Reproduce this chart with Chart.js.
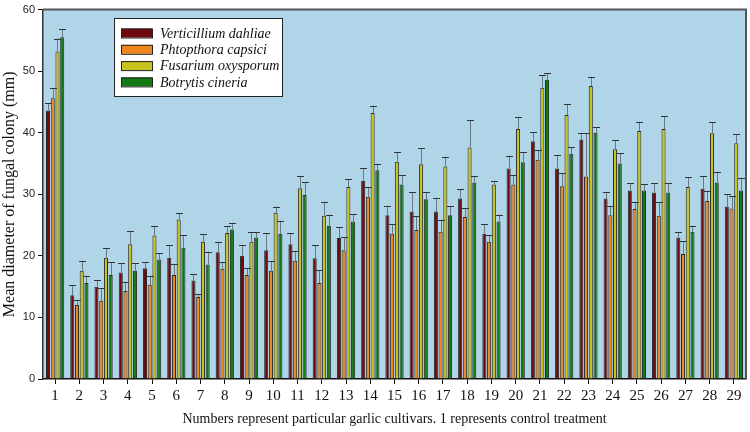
<!DOCTYPE html>
<html>
<head>
<meta charset="utf-8">
<script src="https://cdn.jsdelivr.net/npm/chart.js@4/dist/chart.umd.min.js"></script>
<style>
  html, body { margin: 0; padding: 0; background: #fff; }
  #wrap { width: 750px; height: 432px; position: relative; }
</style>
</head>
<body>
<div id="wrap"><canvas id="myBarChart"></canvas></div>
<script>
// cultivar numbers (1 = control)
const cultivars = ['1','2','3','4','5','6','7','8','9','10','11','12','13','14','15','16','17','18','19','20','21','22','23','24','25','26','27','28','29'];
const seriesNames = ['Verticillium dahliae', 'Phtopthora capsici', 'Fusarium oxysporum', 'Botrytis cineria'];

// mean colony diameter (mm)
const verticillium = [43.6,13.6,15.0,17.3,18.0,19.7,16.0,20.6,20.0,20.9,21.9,19.6,22.9,32.2,26.6,27.2,27.2,29.3,23.6,34.2,38.6,34.2,38.9,29.3,30.6,30.3,23.0,30.9,28.0];
const phytophthora = [45.6,12.0,12.7,14.3,15.3,16.9,13.3,17.9,16.9,17.6,19.2,15.6,20.9,29.6,23.6,24.2,23.9,26.3,22.3,31.6,35.6,31.3,32.9,26.6,27.6,26.5,20.3,28.9,27.7];
const fusarium = [53.2,17.6,19.7,21.9,23.3,25.9,22.3,23.7,22.3,27.0,31.0,26.5,31.2,43.2,35.3,34.9,34.5,37.6,31.6,40.6,47.3,42.9,47.6,37.3,40.3,40.6,31.2,39.9,38.3];
const botrytis = [55.5,15.6,16.9,17.6,19.4,21.3,18.6,24.3,23.0,23.6,29.9,24.9,25.6,33.9,31.6,29.2,26.6,31.9,25.6,35.2,48.6,36.6,40.0,35.0,30.6,30.3,23.9,31.9,30.6];

// upper error (mm)
const verticilliumErr = [1.2,1.6,1.0,1.5,1.0,2.0,1.0,1.6,1.7,2.8,1.8,2.1,1.8,2.1,1.5,3.1,2.2,1.5,1.5,2.1,1.5,2.2,1.0,1.1,1.2,1.5,0.9,2.0,2.0];
const phytophthoraErr = [1.6,0.9,2.0,1.5,1.5,1.8,0.5,1.1,1.1,1.6,1.6,2.1,2.1,1.6,1.6,2.2,2.0,1.5,1.1,1.5,1.6,2.1,7.0,1.5,1.2,2.2,2.1,1.7,2.0];
const fusariumErr = [2.1,1.6,1.5,2.1,1.5,1.1,1.2,1.1,1.5,1.0,1.9,2.3,1.3,1.2,1.5,2.6,1.6,4.5,0.6,2.0,2.0,1.7,1.5,1.5,1.5,2.1,1.6,1.8,1.5];
const botrytisErr = [1.3,1.2,2.1,1.2,1.0,2.1,2.1,1.1,0.9,2.1,2.1,1.8,1.2,1.1,1.5,1.2,1.5,1.0,1.1,1.6,1.1,1.1,0.9,1.7,1.1,1.5,1.0,1.8,2.1];

const yTicks = [0, 10, 20, 30, 40, 50, 60];

const colors = ['#6E0A0E', '#F0861E', '#C6C41C', '#117A12'];
const serif = '"Liberation Serif", "Times New Roman", serif';
const sans = '"Liberation Sans", Arial, sans-serif';

// plot background + frame
const backgroundPlugin = {
  id: 'plotBg',
  beforeDraw(chart) {
    const { ctx, chartArea: a } = chart;
    ctx.save();
    ctx.fillStyle = '#B0D5E9';
    ctx.fillRect(a.left, a.top, a.right - a.left, a.bottom - a.top);
    ctx.restore();
  },
  afterDraw(chart) {
    const { ctx, chartArea: a } = chart;
    ctx.save();
    ctx.strokeStyle = '#555';
    ctx.lineWidth = 2;
    ctx.beginPath();
    ctx.moveTo(a.left, a.top);
    ctx.lineTo(a.right, a.top);
    ctx.lineTo(a.right, a.bottom);
    ctx.stroke();
    ctx.restore();
  }
};

// upward error bars with caps
const errorBarPlugin = {
  id: 'errorBars',
  afterDatasetsDraw(chart) {
    const { ctx } = chart;
    const yScale = chart.scales.y;
    ctx.save();
    chart.data.datasets.forEach((ds, i) => {
      const meta = chart.getDatasetMeta(i);
      meta.data.forEach((bar, j) => {
        const top = yScale.getPixelForValue(ds.data[j] + ds.errors[j]);
        const x = Math.round(bar.x) + 0.5;
        ctx.strokeStyle = '#667788';
        ctx.lineWidth = 1;
        ctx.beginPath();
        ctx.moveTo(x, bar.y);
        ctx.lineTo(x, top);
        ctx.stroke();
        ctx.strokeStyle = '#333';
        ctx.beginPath();
        ctx.moveTo(x - 3.5, Math.round(top) + 0.5);
        ctx.lineTo(x + 3.5, Math.round(top) + 0.5);
        ctx.stroke();
      });
    });
    ctx.restore();
  }
};

// legend box inside the plot
const legendPlugin = {
  id: 'boxLegend',
  afterDraw(chart) {
    const { ctx } = chart;
    const x0 = 114, y0 = 18, w = 168, h = 78;
    ctx.save();
    ctx.fillStyle = '#fff';
    ctx.fillRect(x0, y0, w, h);
    ctx.strokeStyle = '#222';
    ctx.lineWidth = 1;
    ctx.strokeRect(x0 + 0.5, y0 + 0.5, w, h);
    ctx.font = 'italic 14px ' + serif;
    ctx.textBaseline = 'middle';
    chart.data.datasets.forEach((ds, i) => {
      const cy = y0 + 15 + i * 16.3;
      ctx.fillStyle = ds.backgroundColor;
      ctx.fillRect(121, cy - 4.5, 31, 9);
      ctx.strokeStyle = '#222';
      ctx.strokeRect(121.5, cy - 4, 31, 9);
      ctx.fillStyle = '#111';
      ctx.fillText(ds.label, 160, cy + 1);
    });
    ctx.restore();
  }
};

const ctx = document.getElementById('myBarChart').getContext('2d');
const values = [verticillium, phytophthora, fusarium, botrytis];
const errs = [verticilliumErr, phytophthoraErr, fusariumErr, botrytisErr];

new Chart(ctx, {
  type: 'bar',
  data: {
    labels: cultivars,
    datasets: seriesNames.map((name, i) => ({
      label: name,
      data: values[i],
      errors: errs[i],
      backgroundColor: colors[i],
      borderColor: '#2a2a2a',
      borderWidth: 1,
      barPercentage: 0.86,
      categoryPercentage: 0.78
    }))
  },
  options: {
    responsive: true,
    maintainAspectRatio: false,
    animation: false,
    layout: { padding: { top: 5, right: 4, left: 0, bottom: 0 } },
    plugins: {
      legend: { display: false },
      tooltip: { enabled: false }
    },
    scales: {
      x: {
        afterFit(scale) { scale.height = 53; },
        grid: { display: true, drawOnChartArea: false, offset: false, tickLength: 5, color: '#111' },
        border: { display: true, color: '#111', width: 1.5 },
        ticks: { color: '#111', font: { family: serif, size: 15 }, padding: 3, maxRotation: 0, autoSkip: false },
        title: {
          display: true,
          text: 'Numbers represent particular garlic cultivars. 1 represents control treatment',
          color: '#111',
          font: { family: serif, size: 14 },
          padding: { top: 2, bottom: 4 }
        }
      },
      y: {
        min: 0,
        max: 60,
        afterFit(scale) { scale.width = 43; },
        afterBuildTicks(scale) { scale.ticks = yTicks.map(v => ({ value: v })); },
        grid: { display: true, drawOnChartArea: false, tickLength: 5, color: '#111' },
        border: { display: true, color: '#333', width: 1.5 },
        ticks: { color: '#222', font: { family: sans, size: 11 }, padding: 3 },
        title: {
          display: true,
          text: 'Mean diameter of fungal colony (mm)',
          color: '#111',
          font: { family: serif, size: 16 },
          padding: { top: 0, bottom: 2 }
        }
      }
    }
  },
  plugins: [backgroundPlugin, errorBarPlugin, legendPlugin]
});
</script>
</body>
</html>
